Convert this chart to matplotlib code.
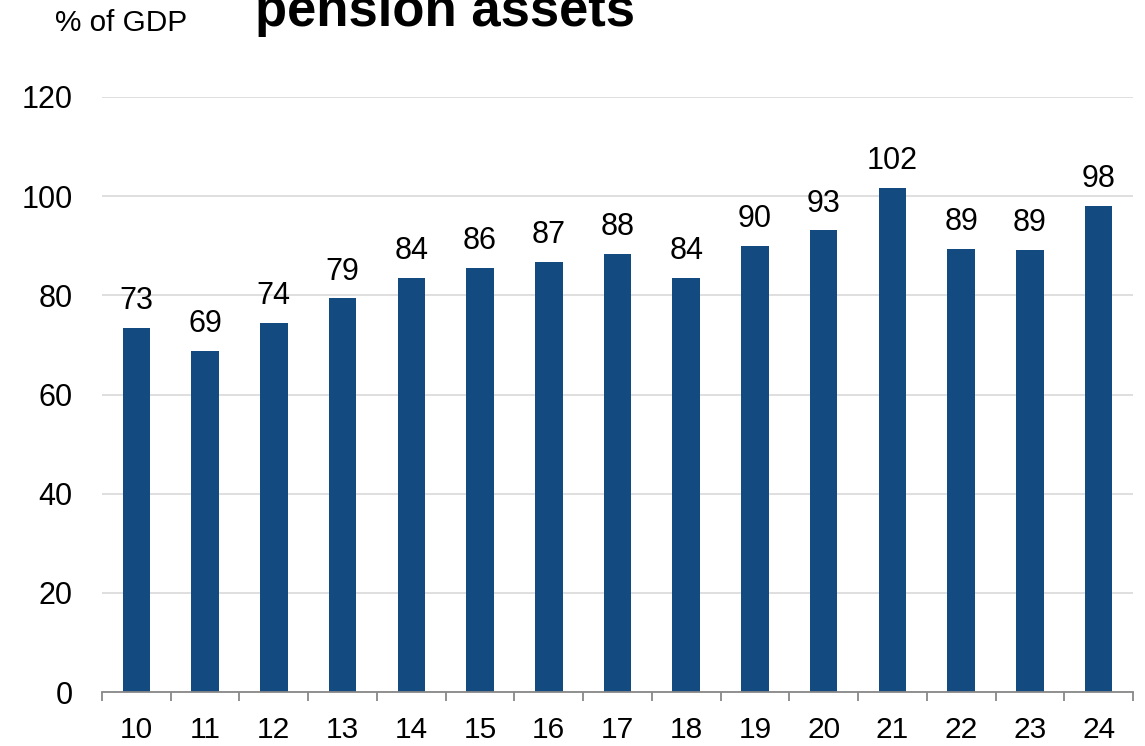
import numpy as np
import matplotlib
matplotlib.use("Agg")
import matplotlib.pyplot as plt
from matplotlib.ticker import FixedLocator

plt.rcParams["font.family"] = ["Liberation Sans", "DejaVu Sans"]

# data
years = ["10", "11", "12", "13", "14", "15", "16", "17", "18", "19", "20", "21", "22", "23", "24"]
values = [73.4, 68.8, 74.4, 79.4, 83.5, 85.6, 86.7, 88.3, 83.5, 89.9, 93.1, 101.6, 89.3, 89.1, 98.0]
yticks = [0, 20, 40, 60, 80, 100, 120]

bar_color = "#134A80"

fig = plt.figure(figsize=(11.45, 7.46), dpi=100)
ax = fig.add_axes([102 / 1145, 1 - 692 / 746, 1031 / 1145, 595 / 746])

x = np.arange(len(years))
ax.bar(x, values, width=0.4, color=bar_color, zorder=3)

# value labels above bars
for xi, v in zip(x, values):
    ax.annotate(f"{v:.0f}", (xi, v), xytext=(0, 8.5), textcoords="offset points",
                ha="center", va="bottom", fontsize=22, color="black")

ax.set_xlim(-0.5, len(years) - 0.5)
ax.set_ylim(0, 120)
ax.set_yticks(yticks)
ax.set_yticklabels([str(t) for t in yticks])
ax.grid(axis="y", color="#d9d9d9", linewidth=1.2, zorder=0)

ax.set_xticks(x)
ax.set_xticklabels(years)
ax.xaxis.set_minor_locator(FixedLocator(np.arange(-0.5, len(years), 1.0)))
ax.tick_params(axis="x", which="major", length=0, pad=17, labelsize=21.5)
ax.tick_params(axis="x", which="minor", length=6.5, width=1.3, color="#888888")
ax.tick_params(axis="y", length=0, pad=21, labelsize=22)

for side in ["left", "right", "top"]:
    ax.spines[side].set_visible(False)
ax.spines["bottom"].set_color("#888888")
ax.spines["bottom"].set_linewidth(1.3)
ax.spines["bottom"].set_zorder(4)

fig.text(55 / 1145, 1 - 31 / 746, "% of GDP", fontsize=21.4, va="baseline", ha="left")
fig.text(445 / 1145, 1 - 26 / 746, "pension assets", fontsize=37.9, fontweight="bold",
         va="baseline", ha="center")

plt.savefig("out.png", dpi=100)
plt.close()
